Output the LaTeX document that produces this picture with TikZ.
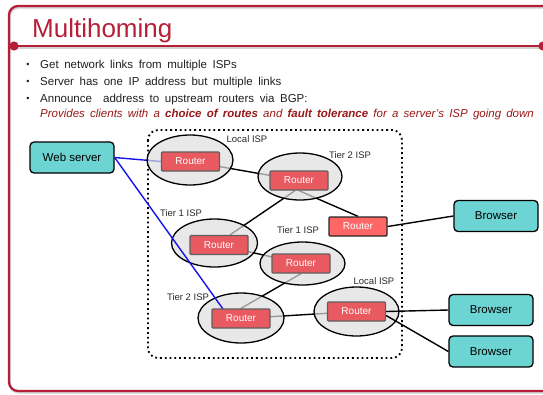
\documentclass[tikz,border=0pt]{standalone}
\usepackage{fontspec}
\setmainfont{Liberation Sans}
\usetikzlibrary{shapes.geometric}
\definecolor{frameRed}{RGB}{183,30,56}
\definecolor{noteRed}{RGB}{150,24,24}
\definecolor{hostFill}{RGB}{108,212,210}
\definecolor{routerFill}{RGB}{232,90,96}
\definecolor{routerHot}{RGB}{255,102,102}
\definecolor{routerEdge}{RGB}{95,95,95}
\definecolor{ispFill}{RGB}{222,222,222}
\definecolor{linkBlue}{RGB}{20,20,235}
\definecolor{labelGrey}{RGB}{40,40,40}
\newcommand\widewordspace{\spaceskip=5.6pt plus 1pt minus 1pt\relax}
\newcommand\noteworldspace{\spaceskip=5.2pt plus 1pt minus 1pt\relax}
\pgfdeclarelayer{links}
\pgfsetlayers{links,main}
\begin{document}
\begin{tikzpicture}[x=1pt,y=-1pt,
  host/.style={draw=black, line width=1.3pt, fill=hostFill, rounded corners=4pt,
    minimum width=84pt, minimum height=31pt, inner sep=0pt,
    font=\fontsize{11.5}{13}\selectfont},
  router/.style={draw=routerEdge, line width=1.3pt, fill=routerFill,
    minimum width=58pt, minimum height=19pt, inner sep=0pt, rounded corners=1pt,
    text=white, font=\fontsize{10}{11}\selectfont},
  isp/.style={ellipse, draw=black, line width=1.3pt, fill=ispFill, fill opacity=0.7,
    draw opacity=1, inner sep=0pt},
  isplabel/.style={text=labelGrey, font=\fontsize{9.5}{11}\selectfont, inner sep=0pt},
  link/.style={draw=black, line width=1.4pt},
  bluelink/.style={draw=linkBlue, line width=1.4pt},
  bullettext/.style={anchor=base west, inner sep=0pt, text=black!88,
    font={\fontsize{11.5}{13}\selectfont\widewordspace}},
  dot/.style={anchor=base, inner sep=0pt, text=black!88, font=\fontsize{9}{10}\selectfont}
]
\useasboundingbox (0,0) rectangle (543,394);

% slide frame and title rule
\begin{scope}
  \clip (0,0) rectangle (543,394);
  \draw[black!18, line width=2pt, rounded corners=9pt] (10,7.5) rectangle (572,392.5);
  \draw[frameRed, line width=2.3pt, rounded corners=9pt] (9,6) rectangle (570,391);
  \draw[black!18, line width=2.2pt] (14,47.5) -- (560,47.5);
  \draw[frameRed, line width=2.6pt] (14,46) -- (560,46);
  \fill[frameRed] (14,46) circle (4.6);
  \fill[frameRed] (543,46) circle (4.6);
\end{scope}

\node[anchor=base west, inner sep=0pt, text=frameRed, font=\fontsize{26}{30}\selectfont]
  (title) at (32,37.5) {Multihoming};

% bullet points
\node[dot] (d1) at (28,67.5) {•};
\node[dot] (d2) at (28,84.5) {•};
\node[dot] (d3) at (28,101.5) {•};
\node[bullettext] (t1) at (40,68) {Get network links from multiple ISPs};
\node[bullettext] (t2) at (40,85) {Server has one IP address but multiple links};
\node[bullettext] (t3) at (40,102) {Announce\hspace{5.6pt} address to upstream routers via BGP:};
\node[bullettext, text=noteRed] (t4) at (40,117.5) {\noteworldspace\itshape Provides clients with a
  \textbf{choice of routes} and \textbf{fault tolerance} for a server's ISP going down};

% multihomed region
\draw[line width=1.8pt, dash pattern=on 1.8pt off 3pt, rounded corners=10pt]
  (148,130) rectangle (402,358);

% ISP clouds
\node[isp, minimum width=86pt, minimum height=50pt] (e1) at (190,160) {};
\node[isp, minimum width=84pt, minimum height=47pt] (e2) at (300,176.5) {};
\node[isp, minimum width=86pt, minimum height=48pt] (e4) at (214.5,243) {};
\node[isp, minimum width=85pt, minimum height=43pt] (e5) at (302.5,263.5) {};
\node[isp, minimum width=86pt, minimum height=50pt] (e6) at (241,318) {};
\node[isp, minimum width=85pt, minimum height=49pt] (e7) at (356.5,311.5) {};

\node[isplabel] (l1) at (247,139) {Local ISP};
\node[isplabel] (l2) at (350,155) {Tier 2 ISP};
\node[isplabel] (l4) at (181,213) {Tier 1 ISP};
\node[isplabel] (l5) at (298,230) {Tier 1 ISP};
\node[isplabel] (l6) at (188,297) {Tier 2 ISP};
\node[isplabel] (l7) at (374,281) {Local ISP};

% hosts
\node[host] (ws) at (72,157.5) {Web server};
\node[host] (b1) at (496,216) {Browser};
\node[host] (b2) at (491,310) {Browser};
\node[host] (b3) at (491,351.5) {Browser};

% blue link into the lower provider, drawn over the clouds
\coordinate (r6in) at (223,309);
\draw[bluelink] (ws.east) -- (r6in);

% routers
\node[router] (r1) at (190.5,161.5) {Router};
\node[router] (r2) at (299,180.5) {Router};
\node[router, fill=routerHot, draw=black!85] (r3) at (358,226.5) {Router};
\node[router] (r4) at (219,245) {Router};
\node[router] (r5) at (301,263.5) {Router};
\node[router] (r6) at (241,318.5) {Router};
\node[router] (r7) at (356.5,311.5) {Router};

% links beneath the clouds
\begin{pgfonlayer}{links}
  \draw[bluelink] (ws.east) -- (r1.west);
  \draw[link] (r1.center) -- (r2.center);
  \draw[link] ([xshift=-4pt]r2.south) -- ([xshift=11pt]r4.north);
  \draw[link] (r2.south) -- (r3.north);
  \draw[link] (r4.center) -- (r5.center);
  \draw[link] (r5.south) -- (r6.north);
  \draw[link] (r6.center) -- (r7.center);
\end{pgfonlayer}
\draw[link] (r3.east) -- (b1.west);
\draw[link] (r7.east) -- (b2.west);
\draw[link] ([yshift=-4pt]r7.east) -- (b3.west);
\end{tikzpicture}
\end{document}
